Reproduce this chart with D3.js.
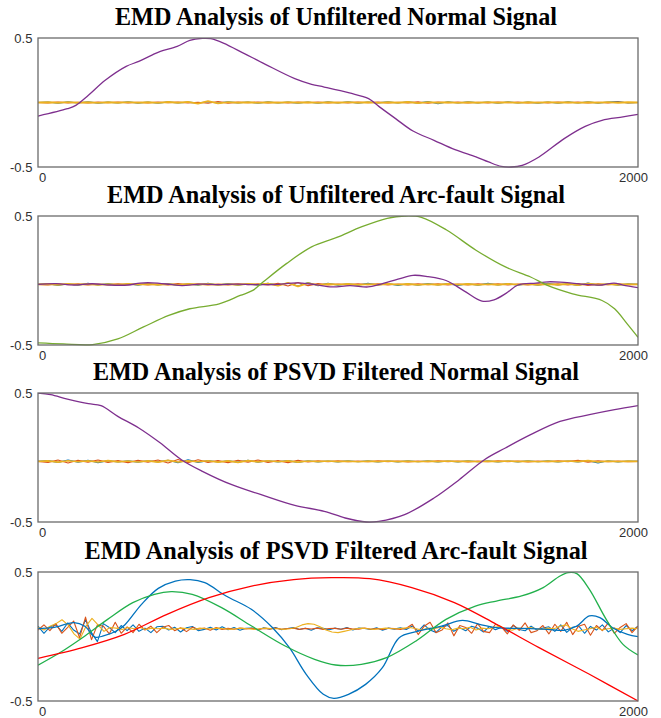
<!DOCTYPE html>
<html>
<head>
<meta charset="utf-8">
<script src="https://cdn.jsdelivr.net/npm/d3@7"></script>
<style>
  body { margin: 0; background: #fff; }
  .title { font-family: "Liberation Serif", "Times New Roman", serif; font-weight: bold; font-size: 25px; fill: #000; }
  .tick text { font-family: "Liberation Sans", Arial, sans-serif; font-size: 13px; fill: #303030; }
</style>
</head>
<body>
<div id="chart"></div>
<script>
// ---- data (sample index 0..2000, amplitude) ----
var titles = [
  "EMD Analysis of Unfiltered Normal Signal",
  "EMD Analysis of Unfiltered Arc-fault Signal",
  "EMD Analysis of PSVD Filtered Normal Signal",
  "EMD Analysis of PSVD Filtered Arc-fault Signal"
];
var xTicks = [0, 2000];
var yTicks = [-0.5, 0.5];
var yTickLabels = ["-0.5", "0.5"];
var noiseBase = [0, -0.03, -0.03, 0.06];

// smooth IMFs / residues, [sample, value]
var p1Purple = [[0,-0.105],[98,-0.048],[126,-0.022],[168,0.056],[224,0.172],[294,0.28],[336,0.319],[378,0.366],[408,0.397],[464,0.435],[506,0.482],[548,0.497],[576,0.495],[618,0.461],[688,0.379],[758,0.296],[856,0.185],[912,0.141],[954,0.12],[1038,0.074],[1102,0.03],[1136,-0.03],[1192,-0.125],[1250,-0.221],[1320,-0.293],[1390,-0.366],[1460,-0.422],[1502,-0.461],[1544,-0.495],[1578,-0.5],[1614,-0.487],[1670,-0.422],[1754,-0.28],[1824,-0.185],[1880,-0.138],[1950,-0.112],[2000,-0.092]];

var p2Green = [[0,-0.484],[84,-0.492],[182,-0.497],[266,-0.453],[350,-0.362],[436,-0.271],[506,-0.219],[604,-0.181],[674,-0.116],[716,-0.077],[750,-0.012],[828,0.131],[912,0.261],[996,0.334],[1080,0.417],[1164,0.482],[1222,0.5],[1278,0.49],[1362,0.391],[1460,0.235],[1558,0.105],[1642,0.027],[1698,-0.038],[1782,-0.103],[1880,-0.155],[1922,-0.219],[1964,-0.336],[2000,-0.44]];
var p2Purple = [[0,-0.03],[60,-0.025],[120,-0.035],[180,-0.025],[240,-0.035],[300,-0.035],[340,-0.02],[380,-0.018],[440,-0.03],[480,-0.04],[540,-0.028],[600,-0.032],[660,-0.028],[720,-0.032],[800,-0.03],[860,-0.018],[920,-0.03],[980,-0.05],[1040,-0.04],[1100,-0.05],[1140,-0.03],[1200,0.01],[1250,0.04],[1300,0.03],[1360,0.0],[1420,-0.08],[1480,-0.16],[1520,-0.15],[1560,-0.1],[1600,-0.035],[1660,-0.02],[1700,-0.01],[1740,-0.012],[1780,-0.02],[1820,-0.03],[1880,-0.035],[1920,-0.02],[1950,-0.035],[2000,-0.055]];

var p3Purple = [[0,0.5],[42,0.487],[98,0.453],[168,0.417],[210,0.402],[266,0.319],[336,0.229],[408,0.112],[478,-0.017],[548,-0.107],[646,-0.211],[744,-0.288],[856,-0.371],[954,-0.417],[1024,-0.469],[1094,-0.5],[1136,-0.495],[1222,-0.443],[1320,-0.314],[1404,-0.172],[1488,-0.017],[1558,0.074],[1642,0.177],[1740,0.28],[1838,0.332],[1922,0.371],[2000,0.402]];

var p4Red = [[0,-0.169],[148,-0.086],[288,0.017],[430,0.172],[570,0.301],[712,0.391],[852,0.441],[978,0.456],[1106,0.448],[1246,0.379],[1388,0.263],[1528,0.095],[1670,-0.086],[1838,-0.293],[2000,-0.5]];
var p4Green = [[0,-0.222],[78,-0.118],[148,-0.009],[232,0.133],[316,0.262],[388,0.327],[444,0.348],[514,0.327],[612,0.224],[712,0.081],[824,-0.074],[922,-0.177],[992,-0.221],[1078,-0.216],[1162,-0.164],[1260,-0.035],[1360,0.133],[1458,0.236],[1528,0.275],[1612,0.314],[1684,0.379],[1740,0.469],[1768,0.495],[1796,0.487],[1838,0.366],[1894,0.133],[1950,-0.061],[2000,-0.143]];
var p4Blue = [[0,0.061],[49,0.068],[120,0.107],[155,0.081],[190,-0.004],[218,0.004],[261,0.043],[289,0.089],[345,0.249],[401,0.373],[458,0.43],[507,0.441],[556,0.417],[627,0.314],[711,0.211],[782,0.068],[838,-0.087],[894,-0.293],[951,-0.448],[986,-0.479],[1035,-0.448],[1092,-0.371],[1148,-0.242],[1204,-0.009],[1261,0.037],[1345,0.081],[1415,0.125],[1472,0.094],[1528,0.068],[1613,0.063],[1697,0.056],[1754,0.048],[1796,0.081],[1838,0.159],[1873,0.146],[1915,0.068],[1965,0.017],[2000,-0.001]];

// high-frequency IMFs, evenly spaced over 0..2000, offset from noiseBase
var p1NoiseBlue = [0,0.004,-0.006,0.005,-0.004,0.006,-0.005,0.003,-0.004,0.006,-0.005,0.004,-0.006,0.005,-0.004,0.003,-0.005,0.006,-0.004,0.005,-0.003,0.004,-0.006,0.005,-0.004,0.003,-0.005,0.004,-0.006,0.005,-0.004,0.006,-0.005,0.004,-0.003,0.005,-0.004,0.006,-0.005,0.008,-0.01,0.006,-0.004,0.005,-0.003,0.004,-0.006,0.005,-0.004,0.003,-0.005,0.004,-0.006,0.005,-0.004,0.006,-0.005,0.004,0.008,-0.004,0];
var p1NoiseOrange = [0,-0.003,0.004,-0.003,0.002,-0.004,0.003,-0.002,0.004,-0.003,0.002,-0.003,0.004,-0.002,0.003,-0.004,0.002,-0.006,0.008,-0.005,0.003,-0.002,0.004,-0.003,0.002,-0.004,0.003,-0.002,0.004,-0.003,0.002,-0.003,0.004,-0.002,0.003,-0.004,0.002,-0.003,0.005,-0.006,0.004,-0.002,0.003,-0.004,0.002,-0.003,0.004,-0.002,0.003,-0.004,0.002,-0.003,0.004,-0.002,0.003,-0.004,0.002,-0.003,0.004,-0.002,0];
var p1NoiseYellow = [0,0.002,-0.002,0.003,-0.002,0.002,-0.003,0.002,-0.002,0.003,-0.002,0.002,-0.003,0.004,-0.002,0.005,-0.008,0.01,-0.006,0.003,-0.002,0.002,-0.003,0.002,-0.002,0.003,-0.002,0.002,-0.003,0.002,-0.002,0.003,-0.002,0.002,-0.003,0.002,-0.002,0.004,-0.005,0.003,-0.002,0.002,-0.003,0.002,-0.002,0.003,-0.002,0.002,-0.003,0.002,-0.002,0.003,-0.002,0.002,-0.003,0.002,-0.002,0.003,-0.002,0.002,0];

var p2NoiseBlue = [0,0.006,-0.008,0.005,-0.006,0.008,-0.005,0.006,-0.008,0.005,-0.006,0.007,-0.005,0.006,-0.008,0.005,-0.006,0.008,-0.005,0.006,-0.007,0.005,-0.006,0.008,-0.006,0.01,-0.012,0.014,-0.01,0.008,-0.006,0.005,-0.006,0.008,-0.005,0.006,-0.008,0.005,-0.006,0.007,-0.005,0.006,-0.008,0.005,-0.006,0.008,-0.005,0.006,-0.007,0.005,-0.006,0.008,-0.005,0.006,-0.008,0.01,-0.006,0.005,-0.007,0.005,0];
var p2NoiseOrange = [0,-0.004,0.005,-0.003,0.004,-0.005,0.003,-0.004,0.005,-0.003,0.004,-0.005,0.003,-0.004,0.006,-0.003,0.004,-0.005,0.003,-0.004,0.005,-0.003,0.004,-0.005,0.008,-0.012,0.015,-0.01,0.006,-0.004,0.003,-0.004,0.005,-0.003,0.004,-0.005,0.003,-0.004,0.005,-0.003,0.004,-0.005,0.003,-0.004,0.005,-0.003,0.004,-0.005,0.003,-0.004,0.005,-0.003,0.004,-0.005,0.006,-0.008,0.004,-0.003,0.004,-0.003,0];
var p2NoiseYellow = [0,0.003,-0.003,0.004,-0.002,0.003,-0.004,0.002,-0.003,0.004,-0.002,0.003,-0.003,0.002,-0.004,0.003,-0.002,0.003,-0.004,0.002,-0.003,0.004,-0.002,0.006,-0.01,0.012,-0.015,0.01,-0.006,0.003,-0.002,0.003,-0.004,0.002,-0.003,0.004,-0.002,0.003,-0.004,0.002,-0.003,0.004,-0.002,0.003,-0.004,0.002,-0.003,0.004,-0.002,0.003,-0.004,0.002,-0.003,0.004,-0.006,0.005,-0.003,0.002,-0.003,0.002,0];

var p3NoiseBlue = [0,0.006,-0.008,0.01,-0.006,0.008,-0.01,0.006,-0.005,0.004,-0.006,0.005,-0.004,0.008,-0.01,0.012,-0.008,0.006,-0.005,0.004,-0.006,0.008,-0.006,0.005,-0.004,0.006,-0.008,0.005,-0.004,0.003,-0.004,0.005,-0.003,0.004,-0.005,0.003,-0.004,0.005,-0.003,0.004,-0.005,0.003,-0.004,0.005,-0.003,0.004,-0.005,0.003,-0.004,0.005,-0.003,0.004,-0.005,0.003,-0.004,0.006,-0.012,0.005,-0.004,0.003,0];
var p3NoiseOrange = [0,-0.008,0.01,-0.012,0.008,-0.006,0.01,-0.008,0.006,-0.01,0.008,-0.006,0.01,-0.012,0.015,-0.01,0.012,-0.008,0.006,-0.01,0.008,-0.006,0.01,-0.008,0.006,-0.01,0.008,-0.005,0.004,-0.003,0.004,-0.003,0.002,-0.003,0.004,-0.002,0.003,-0.004,0.002,-0.003,0.004,-0.002,0.003,-0.004,0.002,-0.003,0.004,-0.002,0.003,-0.004,0.002,-0.003,0.004,-0.002,0.008,-0.006,0.004,-0.003,0.002,-0.003,0];
var p3NoiseYellow = [0,0.004,-0.006,0.005,-0.003,0.004,-0.005,0.006,-0.004,0.003,-0.005,0.004,-0.006,0.008,-0.005,0.004,-0.003,0.005,-0.006,0.004,-0.008,0.006,-0.004,0.005,-0.003,0.004,-0.006,0.003,-0.002,0.003,-0.002,0.002,-0.003,0.002,-0.002,0.003,-0.002,0.002,-0.003,0.002,-0.002,0.003,-0.002,0.002,-0.003,0.002,-0.002,0.003,-0.002,0.002,-0.003,0.002,-0.002,0.003,-0.002,0.006,-0.004,0.002,-0.002,0.002,0];

var p4NoiseBlue = [0.02,-0.035,0.015,0.03,-0.02,0.045,-0.01,-0.04,0.07,-0.03,-0.1,0.04,0.01,-0.03,0.025,-0.015,0.03,
  -0.02,0.005,-0.03,0.015,0.02,-0.01,0.012,-0.025,0.008,0.018,-0.015,-0.005,0.012,-0.01,0.015,-0.008,
  0.01,-0.012,0.004,0.006,-0.01,0.008,-0.003,0.01,-0.007,0.002,0.009,-0.006,0.004,-0.011,0.007,0.003,-0.008,0.005,-0.004,0.009,-0.01,0.006,0.002,-0.006,0.008,-0.012,0.005,-0.003,0.007,-0.006,
  0.022,-0.018,0.03,-0.01,-0.028,0.015,0.025,-0.02,0.008,-0.015,0.02,0.005,-0.025,0.018,-0.008,0.012,-0.02,0.025,-0.006,-0.015,0.02,-0.01,0.006,0.015,-0.02,
  0.03,-0.028,0.012,0.022,-0.035,0.018,-0.01,0.03,-0.024,0.006,-0.03,0.025,-0.015,0.02];
var p4NoiseOrange = [-0.01,0.03,-0.015,0.04,-0.035,0.01,0.06,-0.07,0.09,-0.085,0.03,0.02,-0.04,0.05,-0.035,0.015,-0.03,
  0.035,-0.01,0.02,-0.03,0.012,0.025,-0.015,0.008,-0.022,0.012,-0.004,0.006,-0.012,0.009,-0.005,0.003,
  -0.004,0.005,-0.002,0.004,-0.006,0.003,-0.001,0.005,-0.004,0.002,0.004,-0.005,0.003,-0.002,0.005,-0.006,0.002,0.003,-0.004,0.005,-0.002,-0.003,0.006,-0.004,0.002,-0.005,0.004,0.001,-0.006,0.004,
  0.035,-0.045,0.02,0.05,-0.03,-0.01,0.045,-0.055,0.025,0.01,-0.035,0.04,-0.02,-0.03,0.035,0.015,-0.04,0.03,-0.012,0.045,-0.03,-0.015,0.025,-0.04,0.035,
  -0.02,0.05,-0.045,0.02,0.035,-0.05,0.025,-0.015,0.045,-0.035,0.01,0.04,-0.03,0.02];
var p4NoiseYellow = [0.01,-0.01,0.02,0.04,0.07,0.03,-0.04,-0.08,0.02,0.08,0.03,-0.02,0.01,0.005,-0.005,0.01,0,
  0.01,-0.005,0.005,0,0.005,-0.005,0,0.005,0,-0.005,0.005,0,0,0.005,0,-0.005,
  0,0.005,0,-0.005,0,0.005,0,0,-0.005,0,0.01,0.03,0.04,0.035,0.015,-0.01,-0.025,-0.03,-0.02,-0.01,0,0.005,0,-0.005,0,0.005,0,0,0.005,
  0.01,0,-0.01,0.005,0,0.012,0,-0.008,0.005,0,0.012,-0.01,0.005,0,0.01,0.02,0,-0.012,0.005,0,0.01,0,-0.005,0.005,0,
  0.02,0.03,0,-0.02,-0.01,0,0.012,-0.01,0,0.006,-0.005,0,0.005,0];

// ---- layout ----
var W = 661, H = 718;
var plotLeft = 38, plotWidth = 600, plotHeight = 129;
var panelTops = [38, 216, 393, 572];
var titleWidths = [442, 458, 486, 503];

var svg = d3.select("#chart").append("svg")
  .attr("width", W).attr("height", H);

var colors = {
  blue: "#0072BD", orange: "#D95319", yellow: "#EDB120",
  purple: "#7E2F8E", green: "#77AC30", green4: "#21B04B", red: "#FF0000"
};

function EmdPanel(idx, noise, smooth){
  var top = panelTops[idx];
  var g = svg.append("g").attr("transform", "translate(" + plotLeft + "," + top + ")");

  var x = d3.scaleLinear().domain([0, 2000]).range([0, plotWidth]);
  var y = d3.scaleLinear().domain([-0.5, 0.5]).range([plotHeight, 0]);

  g.append("text")
    .attr("class", "title")
    .attr("x", plotWidth / 2 - 2)
    .attr("y", -13)
    .attr("text-anchor", "middle")
    .attr("textLength", titleWidths[idx])
    .attr("lengthAdjust", "spacingAndGlyphs")
    .text(titles[idx]);

  var clip = "clip" + idx;
  g.append("clipPath").attr("id", clip)
    .append("rect").attr("width", plotWidth).attr("height", plotHeight + 1);

  var lines = g.append("g").attr("clip-path", "url(#" + clip + ")");

  // noisy IMFs first
  noise.forEach(function(n){
    var step = 2000 / (n.values.length - 1);
    var line = d3.line()
      .x(function(d, i){ return x(i * step); })
      .y(function(d){ return y(noiseBase[idx] + d); });
    lines.append("path")
      .attr("d", line(n.values))
      .attr("fill", "none")
      .attr("stroke", n.color)
      .attr("stroke-width", n.width || 1.1)
      .attr("stroke-linejoin", "round");
  });

  var smoothLine = d3.line()
    .x(function(d){ return x(d[0]); })
    .y(function(d){ return y(d[1]); })
    .curve(d3.curveCatmullRom.alpha(0.5));

  smooth.forEach(function(s){
    lines.append("path")
      .attr("d", smoothLine(s.values))
      .attr("fill", "none")
      .attr("stroke", s.color)
      .attr("stroke-width", 1.3);
  });

  // box
  g.append("rect")
    .attr("width", plotWidth).attr("height", plotHeight)
    .attr("fill", "none")
    .attr("stroke", "#6b6b6b")
    .attr("stroke-width", 1.3);

  var yAxis = d3.axisLeft(y).tickValues(yTicks).tickSize(0)
    .tickFormat(function(d, i){ return yTickLabels[i]; });
  var yg = g.append("g").call(yAxis);
  yg.select(".domain").remove();
  yg.selectAll("text").attr("dx", "-0.2em");

  var xAxis = d3.axisBottom(x).tickValues(xTicks).tickSize(0)
    .tickFormat(d3.format("d"));
  var xg = g.append("g").attr("transform", "translate(0," + plotHeight + ")").call(xAxis);
  xg.select(".domain").remove();
  xg.selectAll("text")
    .attr("dy", "0.95em")
    .attr("dx", function(d){ return d === 0 ? 4 : -5; });
}

EmdPanel(0,
  [{values: p1NoiseBlue, color: colors.blue},
   {values: p1NoiseOrange, color: colors.orange},
   {values: p1NoiseYellow, color: colors.yellow, width: 1.8}],
  [{values: p1Purple, color: colors.purple}]);

EmdPanel(1,
  [{values: p2NoiseBlue, color: colors.blue},
   {values: p2NoiseOrange, color: colors.orange},
   {values: p2NoiseYellow, color: colors.yellow, width: 1.8}],
  [{values: p2Purple, color: colors.purple},
   {values: p2Green, color: colors.green}]);

EmdPanel(2,
  [{values: p3NoiseBlue, color: colors.blue},
   {values: p3NoiseOrange, color: colors.orange},
   {values: p3NoiseYellow, color: colors.yellow, width: 1.6}],
  [{values: p3Purple, color: colors.purple}]);

EmdPanel(3,
  [{values: p4NoiseBlue, color: colors.blue},
   {values: p4NoiseOrange, color: colors.orange},
   {values: p4NoiseYellow, color: colors.yellow}],
  [{values: p4Blue, color: colors.blue},
   {values: p4Green, color: colors.green4},
   {values: p4Red, color: colors.red}]);
</script>
</body>
</html>
